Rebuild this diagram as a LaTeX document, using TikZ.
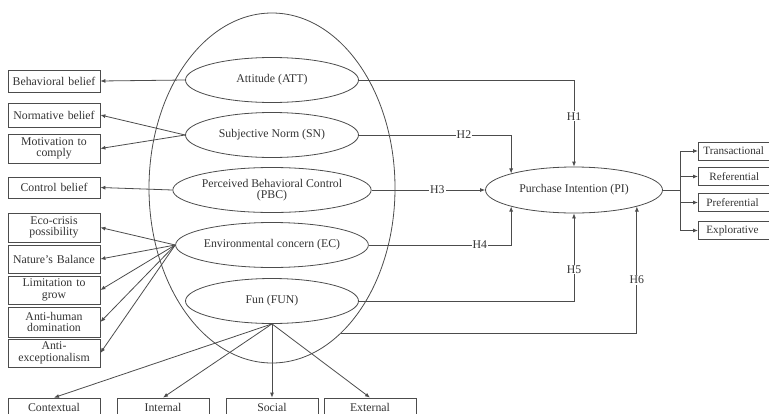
\documentclass[tikz,border=0pt]{standalone}
\usepackage{fontspec}
\setmainfont{Liberation Serif}
\usetikzlibrary{shapes.geometric,arrows.meta,calc}
\begin{document}
\begin{tikzpicture}[x=1pt,y=-1pt,
  font=\fontsize{11.8}{11.5}\selectfont,
  line/.style={draw=black!70, line width=0.8pt},
  arr/.style={line, -{Latex[length=5pt,width=4pt]}},
  box/.style={draw=black!70, line width=0.8pt, rectangle, align=center, inner sep=1pt,
     text=black!80, minimum width=92pt, text width=89pt},
  oval/.style={ellipse, draw=black!70, line width=0.8pt, minimum width=173pt,
     minimum height=45pt, inner sep=0pt, align=center, text=black!80},
  hl/.style={fill=white, inner sep=1pt, text=black!80},
  rbox/.style={draw=black!70, line width=0.8pt, rectangle, inner sep=1pt, text=black!80,
     minimum width=80pt, minimum height=18pt, anchor=west, align=left, text width=70pt,
     font=\fontsize{11.2}{11.5}\selectfont}]
\useasboundingbox (0,0) rectangle (769,413);
\clip (0,0) rectangle (769,413);

% big ellipse
\node[ellipse, draw=black!70, line width=0.8pt, minimum width=246pt, minimum height=350pt] (big) at (272,188) {};

% inner constructs
\node[oval] (att) at (272,80) {Attitude (ATT)};
\node[oval] (sn)  at (272,135) {Subjective Norm (SN)};
\node[oval] (pbc) at (272,190) {Perceived Behavioral Control\\(PBC)};
\node[oval] (ec)  at (272,245) {Environmental concern (EC)};
\node[oval] (fun) at (272,301) {Fun (FUN)};

% purchase intention
\node[ellipse, draw=black!70, line width=0.8pt, minimum width=177pt, minimum height=46pt,
  inner sep=0pt, text=black!80] (pi) at (574,190) {Purchase Intention (PI)};

% left boxes
\node[box, minimum height=22pt] (bb) at (54,81) {Behavioral belief};
\node[box, minimum height=24pt] (nb) at (54,115) {Normative belief};
\node[box, minimum height=29pt] (mc) at (54,148.5) {Motivation to\\comply};
\node[box, minimum height=21pt] (cb) at (54,187.5) {Control belief};
\node[box, minimum height=29pt] (eco) at (54,227.5) {Eco-crisis\\possibility};
\node[box, minimum height=28pt] (nat) at (54,259) {Nature's Balance};
\node[box, minimum height=28pt] (lim) at (54,290) {Limitation to\\grow};
\node[box, minimum height=30pt] (ahd) at (54,322) {Anti-human\\domination};
\node[box, minimum height=28pt] (aex) at (54,353) {Anti-\\exceptionalism};

% bottom boxes
\node[box, minimum height=18pt] (ctx) at (54,407) {Contextual};
\node[box, minimum height=18pt] (int) at (163,407) {Internal};
\node[box, minimum height=18pt] (soc) at (272,407) {Social};
\node[box, minimum height=18pt] (ext) at (370,407) {External};

% right boxes
\node[rbox] (tr) at (698,151) {Transactional};
\node[rbox] (rf) at (698,176.5) {\hspace*{6pt}Referential};
\node[rbox] (pf) at (698,202.5) {\hspace*{3pt}Preferential};
\node[rbox] (ex) at (698,230.5) {\hspace*{3pt}Explorative};

% left arrows
\draw[arr] (att.west) -- (bb.east);
\draw[arr] (sn.west) -- (nb.east);
\draw[arr] (sn.west) -- (mc.east);
\draw[arr] (pbc.west) -- (cb.east);
\foreach \b in {eco,nat,lim,ahd,aex}
  \draw[arr] (ec.west) -- (\b.east);

% bottom arrows
\foreach \b in {ctx,int,soc,ext}
  \draw[arr] (fun.south) -- (\b.north);

% hypotheses
\draw[arr] (att.east) -| node[hl, pos=0.71]{H1} (pi.north);
\draw[arr] (sn.east) -| node[hl, pos=0.345]{H2} (pi.north west);
\draw[arr] (pbc.east) -- node[hl, pos=0.58]{H3} (pi.west);
\draw[arr] (ec.east) -| node[hl, pos=0.39]{H4} (pi.south west);
\draw[arr] (fun.east) -| node[hl, pos=0.68]{H5} (pi.south);
\coordinate (h6s) at (341,333);
\draw[arr] (h6s) -| node[hl, pos=0.71]{H6} (pi.south east);

% outcome fork
\coordinate (fork) at (680,190);
\draw[line] (pi.east) -- (fork);
\foreach \b in {tr,rf,pf,ex}
  \draw[arr] (fork) |- (\b.west);
\end{tikzpicture}
\end{document}
